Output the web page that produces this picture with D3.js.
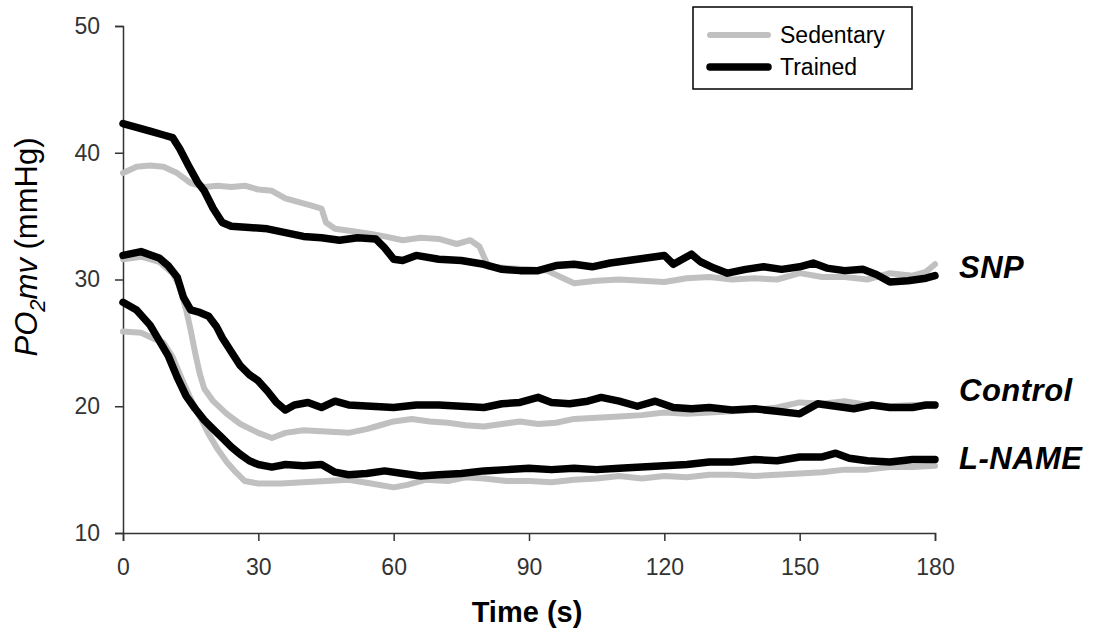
<!DOCTYPE html>
<html>
<head>
<meta charset="utf-8">
<script src="https://cdn.jsdelivr.net/npm/d3@7"></script>
<style>
  body { margin: 0; background: #fff; }
  text { font-family: Arial, "Liberation Sans", sans-serif; }
</style>
</head>
<body>
<div id="chart"></div>
<script>
// Chart size and plot area
const width = 1102;
const height = 643;
const margin = { top: 26, right: 167, bottom: 110, left: 123 };

// Axis ticks
const xTicks = [0, 30, 60, 90, 120, 150, 180];
const yTicks = [10, 20, 30, 40, 50];

// Series: [time (s), PO2mv (mmHg)]
const sedSNP = [[0,38.4],[3,38.9],[6,39.0],[9,38.9],[12,38.4],[15,37.6],[18,37.3],[21,37.4],[24,37.3],[27,37.4],[30,37.1],[33,37.0],[36,36.4],[39,36.1],[42,35.8],[44,35.6],[45,34.5],[47,34.0],[51,33.8],[55,33.6],[58,33.4],[62,33.1],[66,33.3],[70,33.2],[74,32.8],[77,33.1],[79,32.6],[81,31.0],[85,30.9],[90,30.8],[94,30.7],[97,30.2],[100,29.7],[105,29.9],[110,30.0],[115,29.9],[120,29.8],[125,30.1],[130,30.2],[135,30.0],[140,30.1],[145,30.0],[150,30.5],[155,30.2],[160,30.2],[165,30.0],[170,30.5],[175,30.3],[178,30.6],[180,31.2]];
const trnSNP = [[0,42.3],[3,42.0],[6,41.7],[9,41.4],[11,41.2],[12.6,40.3],[14.5,39.0],[16.5,37.7],[18,37.0],[20,35.6],[22,34.5],[24,34.2],[28,34.1],[32,34.0],[36,33.7],[40,33.4],[44,33.3],[48,33.1],[52,33.3],[56,33.2],[58,32.5],[60,31.6],[62,31.5],[65,31.9],[70,31.6],[75,31.5],[80,31.2],[84,30.8],[88,30.7],[92,30.7],[96,31.1],[100,31.2],[104,31.0],[108,31.3],[112,31.5],[116,31.7],[120,31.9],[122,31.2],[124,31.6],[126,32.0],[128,31.4],[131,30.9],[134,30.5],[138,30.8],[142,31.0],[146,30.8],[150,31.0],[153,31.3],[156,30.9],[160,30.7],[164,30.8],[167,30.4],[170,29.8],[174,29.9],[178,30.1],[180,30.3]];
const sedControl = [[0,31.6],[4,31.8],[8,31.4],[11,30.5],[12.5,29.5],[14,27.6],[15,26.0],[16,24.2],[17,22.6],[18,21.4],[20,20.4],[23,19.4],[26,18.6],[30,17.9],[33,17.5],[36,17.9],[40,18.1],[45,18.0],[50,17.9],[54,18.2],[57,18.5],[60,18.8],[64,19.0],[68,18.8],[72,18.7],[76,18.5],[80,18.4],[84,18.6],[88,18.8],[92,18.6],[96,18.7],[100,19.0],[105,19.1],[110,19.2],[115,19.3],[120,19.5],[125,19.4],[130,19.5],[135,19.6],[140,19.7],[145,19.9],[150,20.3],[155,20.2],[160,20.4],[165,20.1],[170,20.0],[175,20.1],[180,20.0]];
const trnControl = [[0,31.9],[4,32.2],[8,31.7],[10,31.1],[12,30.2],[13.4,28.6],[15,27.6],[17,27.4],[19,27.1],[20.7,26.3],[22,25.4],[24,24.3],[26,23.2],[28,22.5],[30,22.0],[32,21.2],[34,20.3],[36,19.7],[38,20.1],[41,20.3],[44,19.9],[47,20.4],[50,20.1],[55,20.0],[60,19.9],[65,20.1],[70,20.1],[75,20.0],[80,19.9],[84,20.2],[88,20.3],[92,20.7],[95,20.3],[99,20.2],[103,20.4],[106,20.7],[110,20.4],[114,20.0],[118,20.4],[122,19.9],[126,19.8],[130,19.9],[135,19.7],[140,19.8],[145,19.6],[150,19.4],[154,20.2],[158,20.0],[162,19.8],[166,20.1],[170,19.9],[175,19.9],[178,20.1],[180,20.1]];
const sedLNAME = [[0,25.9],[4,25.8],[7,25.3],[9,25.0],[11,23.9],[13,22.2],[15,20.6],[17,19.2],[19,17.8],[21,16.6],[23,15.6],[25,14.8],[27,14.1],[30,13.9],[35,13.9],[40,14.0],[45,14.1],[50,14.2],[55,13.9],[60,13.6],[63,13.8],[67,14.2],[72,14.1],[76,14.4],[80,14.3],[85,14.1],[90,14.1],[95,14.0],[100,14.2],[105,14.3],[110,14.5],[115,14.3],[120,14.5],[125,14.4],[130,14.6],[135,14.6],[140,14.5],[145,14.6],[150,14.7],[155,14.8],[160,15.0],[165,15.0],[170,15.2],[175,15.2],[180,15.3]];
const trnLNAME = [[0,28.2],[3,27.6],[6,26.4],[8,25.2],[10,24.0],[12,22.3],[14,20.8],[16,19.8],[18,18.9],[20,18.2],[22,17.5],[24,16.8],[26,16.2],[28,15.7],[30,15.4],[33,15.2],[36,15.4],[40,15.3],[44,15.4],[47,14.8],[50,14.6],[54,14.7],[58,14.9],[62,14.7],[66,14.5],[70,14.6],[75,14.7],[80,14.9],[85,15.0],[90,15.1],[95,15.0],[100,15.1],[105,15.0],[110,15.1],[115,15.2],[120,15.3],[125,15.4],[130,15.6],[135,15.6],[140,15.8],[145,15.7],[150,16.0],[155,16.0],[158,16.3],[161,15.9],[165,15.7],[170,15.6],[175,15.8],[180,15.8]];

const series = [
  { name: "Sedentary", data: sedSNP },
  { name: "Sedentary", data: sedControl },
  { name: "Sedentary", data: sedLNAME },
  { name: "Trained", data: trnSNP },
  { name: "Trained", data: trnControl },
  { name: "Trained", data: trnLNAME },
];

// Condition labels at the right end
const condNames = ["SNP", "Control", "L-NAME"];
const condLevels = [30.95, 21.3, 15.9];

const legendNames = ["Sedentary", "Trained"];

const color = d3.scaleOrdinal().domain(legendNames).range(["#c0c0c0", "#000000"]);
const strokeW = { Sedentary: 6, Trained: 7.5 };

const svg = d3.select("#chart")
  .append("svg")
  .attr("width", width)
  .attr("height", height);

const x = d3.scaleLinear().domain([0, 180]).range([margin.left, width - margin.right]);
const y = d3.scaleLinear().domain([10, 50]).range([height - margin.bottom, margin.top]);

// Axes
const xAxis = svg.append("g")
  .attr("transform", `translate(0, ${y(10)})`)
  .call(d3.axisBottom(x).tickValues(xTicks).tickSizeOuter(0).tickSize(8).tickPadding(18));
const yAxis = svg.append("g")
  .attr("transform", `translate(${x(0)}, 0)`)
  .call(d3.axisLeft(y).tickValues(yTicks).tickSizeOuter(0).tickSize(8).tickPadding(15));

[xAxis, yAxis].forEach((g) => {
  g.select(".domain").attr("stroke", "#333").attr("stroke-width", 1.5);
  g.selectAll(".tick line").attr("stroke", "#333").attr("stroke-width", 1.5);
  g.selectAll(".tick text")
    .attr("fill", "#333")
    .style("font-size", "23px");
});

// Lines
const line = d3.line().x((d) => x(d[0])).y((d) => y(d[1]));

svg.selectAll(".series")
  .data(series)
  .enter()
  .append("path")
  .attr("class", "series")
  .attr("d", (d) => line(d.data))
  .attr("fill", "none")
  .attr("stroke", (d) => color(d.name))
  .attr("stroke-width", (d) => strokeW[d.name])
  .attr("stroke-linejoin", "round")
  .attr("stroke-linecap", "round");

// Condition labels
svg.selectAll(".cond")
  .data(condNames)
  .enter()
  .append("text")
  .attr("class", "cond")
  .attr("x", x(180) + 24)
  .attr("y", (d, i) => y(condLevels[i]))
  .attr("dy", "0.35em")
  .style("font-size", "31px")
  .style("font-weight", "bold")
  .style("font-style", "italic")
  .style("letter-spacing", "0.5px")
  .text((d) => d);

// Axis titles
svg.append("text")
  .attr("x", 527)
  .attr("y", 622)
  .attr("text-anchor", "middle")
  .style("font-size", "29px")
  .style("font-weight", "bold")
  .text("Time (s)");

const yTitle = svg.append("text")
  .attr("transform", `translate(37, 247) rotate(-90)`)
  .attr("text-anchor", "middle")
  .style("font-size", "31px");
yTitle.append("tspan").style("font-style", "italic").text("PO");
yTitle.append("tspan").style("font-style", "italic").attr("dy", 8).style("font-size", "22px").text("2");
yTitle.append("tspan").style("font-style", "italic").attr("dy", -8).text("mv");
yTitle.append("tspan").text(" (mmHg)");

// Legend
const legend = svg.append("g").attr("transform", "translate(693, 7)");
legend.append("rect")
  .attr("width", 219)
  .attr("height", 82)
  .attr("fill", "#fff")
  .attr("stroke", "#000")
  .attr("stroke-width", 1.5);

const legendItems = legend.selectAll(".legend-item")
  .data(legendNames)
  .enter()
  .append("g")
  .attr("class", "legend-item")
  .attr("transform", (d, i) => `translate(0, ${28 + i * 32})`);

legendItems.append("line")
  .attr("x1", 17)
  .attr("x2", 75)
  .attr("stroke", (d) => color(d))
  .attr("stroke-width", (d) => strokeW[d])
  .attr("stroke-linecap", "round");

legendItems.append("text")
  .attr("x", 87)
  .attr("dy", "0.35em")
  .style("font-size", "23px")
  .text((d) => d);
</script>
</body>
</html>
